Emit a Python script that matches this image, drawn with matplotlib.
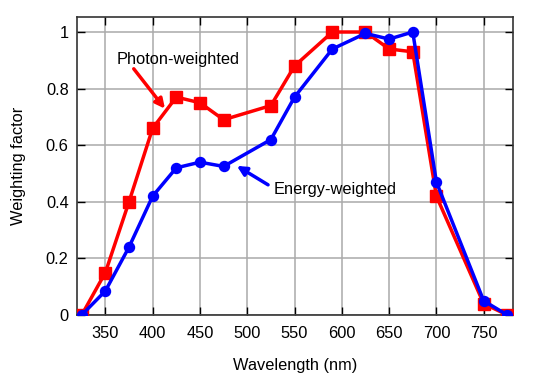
import matplotlib
matplotlib.use("Agg")
import matplotlib.pyplot as plt

plt.rcParams['font.family'] = ['Liberation Sans', 'DejaVu Sans']

wavelength = [325, 350, 375, 400, 425, 450, 475, 525, 550, 590, 625, 650, 675, 700, 750, 775]
photon = [0.0, 0.15, 0.40, 0.66, 0.77, 0.75, 0.69, 0.74, 0.88, 1.0, 1.0, 0.94, 0.93, 0.42, 0.04, 0.0]
energy = [0.0, 0.085, 0.24, 0.42, 0.52, 0.54, 0.525, 0.62, 0.77, 0.94, 0.995, 0.975, 1.0, 0.47, 0.05, 0.0]
xticks = [350, 400, 450, 500, 550, 600, 650, 700, 750]
yticks = [0, 0.2, 0.4, 0.6, 0.8, 1.0]
yticklabels = ['0', '0.2', '0.4', '0.6', '0.8', '1']

fs = 11.8
fig = plt.figure(figsize=(5.4, 3.78), dpi=100)
ax = fig.add_axes([0.1426, 0.1667, 0.8074, 0.7883])

ax.plot(wavelength, photon, color='#ff0000', lw=2.5, marker='s', ms=8.5, zorder=3)
ax.plot(wavelength, energy, color='#0000ff', lw=2.5, marker='o', ms=7.2, zorder=4)

ax.set_xlim(320, 781)
ax.set_ylim(0, 1.053)
ax.set_xticks(xticks)
ax.set_yticks(yticks)
ax.set_yticklabels(yticklabels)
ax.grid(True, color='#aaaaaa', lw=1.1)
ax.set_axisbelow(True)
ax.tick_params(direction='in', top=True, right=True, length=6, labelsize=fs, colors='#000000', width=1)
ax.tick_params(axis='x', pad=8)
ax.tick_params(axis='y', pad=6)
for s in ax.spines.values():
    s.set_color('#333333')
    s.set_linewidth(1.2)

ax.set_xlabel('Wavelength (nm)', fontsize=fs, labelpad=12)
ax.set_ylabel('Weighting factor', fontsize=fs, labelpad=14)

ax.text(427, 0.902, 'Photon-weighted', fontsize=fs, ha='center', va='center')
ax.text(593, 0.442, 'Energy-weighted', fontsize=fs, ha='center', va='center')
ax.annotate('', xy=(413, 0.729), xytext=(380, 0.870),
            arrowprops=dict(arrowstyle='-|>', color='#ff0000', lw=2.5, mutation_scale=14, shrinkA=0, shrinkB=0))
ax.annotate('', xy=(489, 0.527), xytext=(522, 0.46),
            arrowprops=dict(arrowstyle='-|>', color='#0000ff', lw=2.5, mutation_scale=14, shrinkA=0, shrinkB=0))

fig.savefig('out.png', dpi=100)
